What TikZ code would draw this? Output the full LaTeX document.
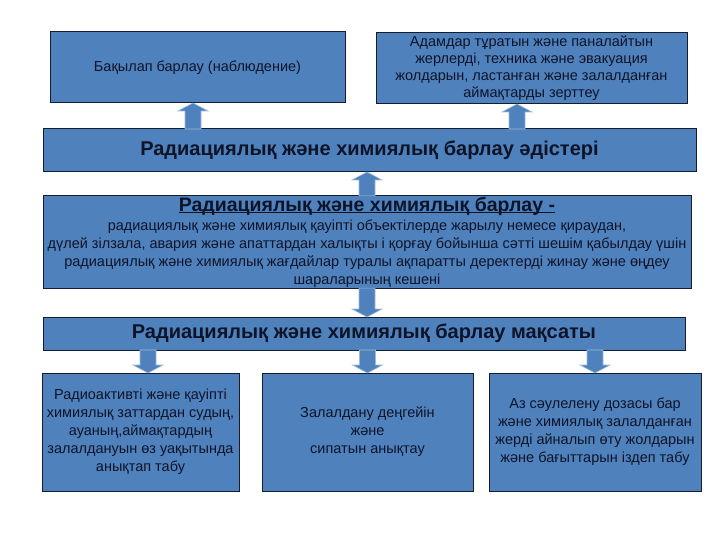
\documentclass[tikz,border=0pt]{standalone}
\usepackage{fontspec}
\setmainfont{Liberation Sans}
\usetikzlibrary{calc}

\definecolor{boxblue}{RGB}{79,129,189}
\definecolor{boxline}{RGB}{20,28,48}
\definecolor{inkblue}{RGB}{14,20,40}

\tikzset{
  box/.style={draw=boxline, line width=1pt, fill=boxblue, text=inkblue, align=center,
    inner sep=1pt, outer sep=0pt, font=\fontsize{14.5}{18}\selectfont},
  headbox/.style={box, font=\fontsize{20}{23}\selectfont\bfseries},
  blockarrow/.style={draw=boxblue!55!white, line width=0.6pt, fill=boxblue},
  arrowup/.style={blockarrow, to path={let \p1=(\tikztostart), \p2=(\tikztotarget) in
    (\x1-8pt,\y1) -- (\x1-8pt,\y2-8pt) -- (\x1-15pt,\y2-8pt) -- (\x1,\y2)
    -- (\x1+15pt,\y2-8pt) -- (\x1+8pt,\y2-8pt) -- (\x1+8pt,\y1) -- cycle}},
  arrowdown/.style={blockarrow, to path={let \p1=(\tikztostart), \p2=(\tikztotarget) in
    (\x1-8pt,\y1) -- (\x1-8pt,\y2+8pt) -- (\x1-15pt,\y2+8pt) -- (\x1,\y2)
    -- (\x1+15pt,\y2+8pt) -- (\x1+8pt,\y2+8pt) -- (\x1+8pt,\y1) -- cycle}}
}

\begin{document}
\begin{tikzpicture}[x=1pt, y=-1pt]
\useasboundingbox (0,0) rectangle (720,540);

\node[box, minimum width=295pt, minimum height=71pt] (observe) at (197.5,67.5) {Бақылап барлау (наблюдение)};
\node[box, minimum width=311pt, minimum height=71pt, font=\fontsize{14.5}{17}\selectfont] (survey) at (531.5,68.5) {Адамдар тұратын және паналайтын\\жерлерді, техника және эвакуация\\жолдарын, ластанған және залалданған\\аймақтарды зерттеу};

\node[headbox, minimum width=653pt, minimum height=43pt] (methods) at (369.5,150.5) {Радиациялық және химиялық барлау әдістері};

\node[box, minimum width=648pt, minimum height=90pt, font=\fontsize{14.5}{18}\selectfont] (define) at (367,242) {{\fontsize{19.5}{20}\selectfont\bfseries\underline{\raisebox{0pt}[\height][0pt]{Радиациялық және химиялық барлау -}}}\\[1pt]
радиациялық және химиялық қауіпті объектілерде жарылу немесе қираудан,\\
дүлей зілзала, авария және апаттардан халықты і қорғау бойынша сәтті шешім қабылдау үшін\\
радиациялық және химиялық  жағдайлар туралы ақпаратты деректерді жинау және өңдеу\\
шараларының кешені};

\node[headbox, minimum width=642pt, minimum height=33pt] (aims) at (364,333.5) {Радиациялық және химиялық барлау мақсаты};

\node[box, minimum width=197pt, minimum height=118pt] (detect) at (140.5,432) {Радиоактивті және қауіпті\\химиялық заттардан  судың,\\ауаның,аймақтардың\\залалдануын өз уақытында\\анықтап табу};
\node[box, minimum width=211pt, minimum height=118pt] (level) at (367.5,432) {Залалдану деңгейін\\және\\сипатын анықтау};
\node[box, minimum width=212pt, minimum height=118pt] (route) at (595,432) {Аз сәулелену дозасы бар\\және химиялық залалданған\\жерді айналып өту жолдарын\\және бағыттарын іздеп табу};

\coordinate (observe tip) at ([xshift=-4.5pt]observe.south);
\coordinate (survey tip) at ([xshift=-14.5pt]survey.south);
\coordinate (detect top) at ([xshift=7.5pt]detect.north);

\draw[arrowup] (methods.north -| observe tip) to (observe tip);
\draw[arrowup] (methods.north -| survey tip) to (survey tip);
\draw[arrowup] (define.north) to (define.north |- methods.south);
\draw[arrowdown] (define.south) to (define.south |- aims.north);
\draw[arrowdown] (aims.south -| detect top) to (detect top);
\draw[arrowdown] (aims.south -| level.north) to (level.north);
\draw[arrowdown] (aims.south -| route.north) to (route.north);
\end{tikzpicture}
\end{document}
